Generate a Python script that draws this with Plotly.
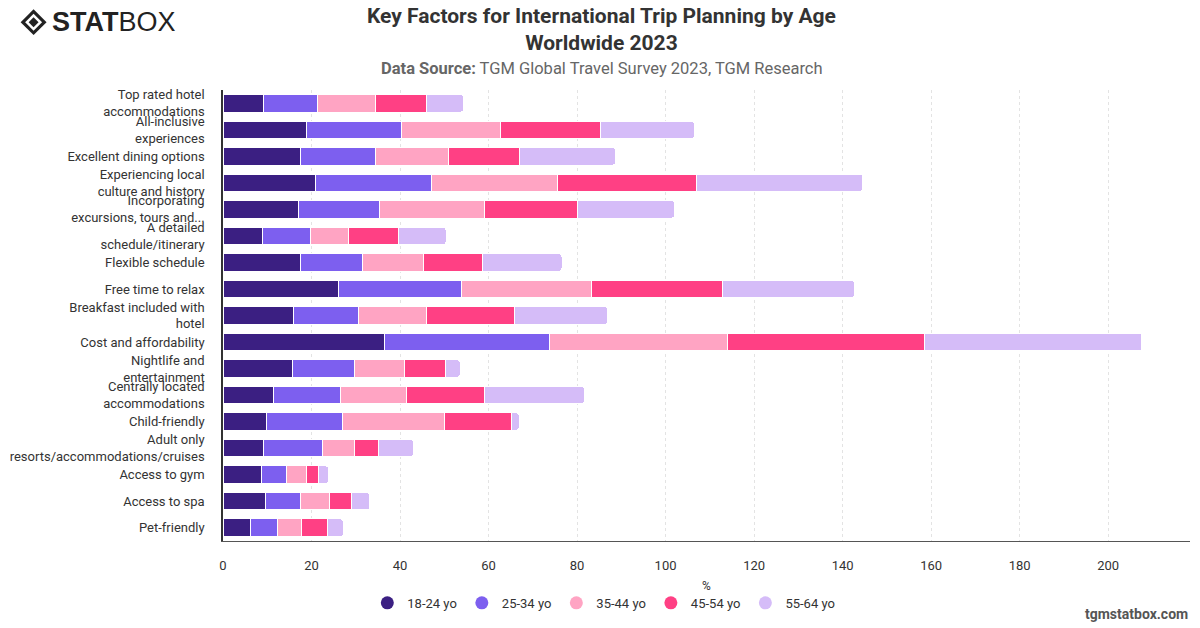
import plotly.graph_objects as go

categories = [
    "Top rated hotel<br>accommodations",
    "All-inclusive<br>experiences",
    "Excellent dining options",
    "Experiencing local<br>culture and history",
    "Incorporating<br>excursions, tours and...",
    "A detailed<br>schedule/itinerary",
    "Flexible schedule",
    "Free time to relax",
    "Breakfast included with<br>hotel",
    "Cost and affordability",
    "Nightlife and<br>entertainment",
    "Centrally located<br>accommodations",
    "Child-friendly",
    "Adult only<br>resorts/accommodations/cruises",
    "Access to gym",
    "Access to spa",
    "Pet-friendly",
]

age_18_24 = [9.1, 18.8, 17.4, 21.0, 17.1, 9.0, 17.6, 26.0, 16.0, 36.6, 15.8, 11.3, 9.8, 9.1, 8.6, 9.5, 6.1]
age_25_34 = [12.2, 21.6, 17.1, 26.2, 18.3, 10.8, 14.0, 28.0, 14.7, 37.2, 13.8, 15.2, 17.3, 13.4, 5.8, 7.9, 6.3]
age_35_44 = [13.1, 22.2, 16.4, 28.4, 23.7, 8.6, 13.8, 29.3, 15.2, 40.1, 11.5, 15.0, 23.0, 7.2, 4.4, 6.6, 5.4]
age_45_54 = [11.5, 22.8, 16.1, 31.4, 21.1, 11.3, 13.2, 29.6, 20.0, 44.6, 9.2, 17.6, 15.2, 5.5, 2.8, 5.1, 5.9]
age_55_64 = [8.5, 21.1, 21.7, 37.5, 21.8, 10.7, 18.0, 29.8, 21.0, 49.1, 3.3, 22.5, 1.6, 7.8, 2.3, 4.0, 3.5]

series_names = ["18-24 yo", "25-34 yo", "35-44 yo", "45-54 yo", "55-64 yo"]
series_values = [age_18_24, age_25_34, age_35_44, age_45_54, age_55_64]
colors = ["#3b1f82", "#7d5fef", "#ffa4c3", "#ff4084", "#d5bcf8"]

FONT = "Roboto, Arial, sans-serif"

fig = go.Figure()
for name, vals, col in zip(series_names, series_values, colors):
    fig.add_trace(go.Bar(
        y=categories, x=vals, name=name, orientation="h",
        marker=dict(color=col, line=dict(color="white", width=1)),
        legendgroup=name, showlegend=False,
        hovertemplate="%{y}: %{x}%<extra>" + name + "</extra>",
    ))
# legend entries with circle markers
for name, col in zip(series_names, colors):
    fig.add_trace(go.Scatter(
        x=[None], y=[None], mode="markers", name=name, legendgroup=name,
        marker=dict(symbol="circle", size=13, color=col),
        showlegend=True, hoverinfo="skip",
    ))

L, R, T, B = 220, 10, 90, 86
W_plot = 1200 - L - R
H_plot = 628 - T - B


def px(xp):
    return (xp - L) / W_plot


def py(yp):
    return (628 - B - yp) / H_plot


fig.update_layout(
    barmode="stack",
    bargap=0.34,
    barcornerradius=3,
    width=1200, height=628,
    margin=dict(l=L, r=R, t=T, b=B),
    paper_bgcolor="white", plot_bgcolor="white",
    font=dict(family=FONT, size=13, color="#333333"),
    legend=dict(
        orientation="h", x=px(602), xanchor="center", y=py(589), yanchor="top",
        font=dict(size=13, color="#333333"),
        traceorder="normal", itemwidth=30, tracegroupgap=0,
    ),
    showlegend=True,
)

fig.update_xaxes(
    range=[0, 218.5],
    tickvals=[0, 20, 40, 60, 80, 100, 120, 140, 160, 180, 200],
    showgrid=True, gridcolor="#e3e3e3", griddash="dot", gridwidth=1,
    zeroline=False,
    showline=True, linecolor="#555555", linewidth=1,
    ticks="", ticklabelstandoff=12,
    tickfont=dict(size=13, color="#333333"),
    title=dict(text="%", font=dict(size=12, color="#333333"), standoff=10),
)
fig.update_yaxes(
    autorange="reversed",
    showgrid=False, showline=True, linecolor="#333333", linewidth=1.5,
    ticks="", ticklabelstandoff=14,
    tickfont=dict(size=13, color="#333333"),
)

# title
fig.add_annotation(
    text="<b>Key Factors for International Trip Planning by Age<br>Worldwide 2023</b>",
    xref="paper", yref="paper", x=px(600), y=py(29), xanchor="center", yanchor="middle",
    showarrow=False, font=dict(family=FONT, size=21, color="#333333"),
)
# subtitle
fig.add_annotation(
    text="<b>Data Source:</b> TGM Global Travel Survey 2023, TGM Research",
    xref="paper", yref="paper", x=px(600), y=py(68), xanchor="center", yanchor="middle",
    showarrow=False, font=dict(family=FONT, size=16.5, color="#666666"),
)
# watermark
fig.add_annotation(
    text="<b>tgmstatbox.com</b>", xref="paper", yref="paper",
    x=1.0, y=py(615), xanchor="right", yanchor="middle",
    showarrow=False, font=dict(family=FONT, size=14, color="#555555"),
)
# logo text
fig.add_annotation(
    text="<b>STAT</b>BOX", xref="paper", yref="paper",
    x=px(46), y=py(22), xanchor="left", yanchor="middle",
    showarrow=False, font=dict(family="Liberation Sans, Arial", size=27, color="#222222"),
)
# logo diamond icon
cx, cy = 30, 22
for r, c in [(13, "#222222"), (8.5, "white"), (5, "#222222")]:
    fig.add_shape(type="path", xref="paper", yref="paper",
                  path=f"M {px(cx)} {py(cy-r)} L {px(cx+r)} {py(cy)} L {px(cx)} {py(cy+r)} L {px(cx-r)} {py(cy)} Z",
                  fillcolor=c, line=dict(width=0))

fig.write_html("out.html")
